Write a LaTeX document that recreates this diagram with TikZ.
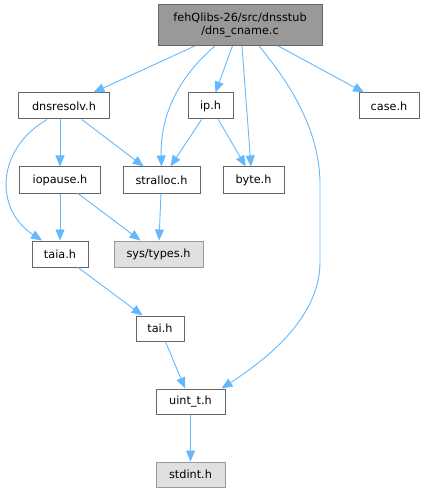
\documentclass[tikz,border=0pt]{standalone}
\usepackage{fontspec}
\setmainfont{DejaVu Sans}
\usetikzlibrary{arrows.meta,calc}
\definecolor{edgeblue}{HTML}{63B8FF}
\definecolor{boxline}{HTML}{666666}
\definecolor{topfill}{HTML}{999999}
\definecolor{missfill}{HTML}{E0E0E0}
\definecolor{missline}{HTML}{999999}
\begin{document}
\begin{tikzpicture}[x=1bp,y=-1bp,
  box/.style={draw=boxline, fill=white, line width=1bp, inner sep=0pt, font=\fontsize{11.3}{13.5}\selectfont, align=center},
  topbox/.style={box, fill=topfill},
  missbox/.style={box, draw=missline, fill=missfill},
  dep/.style={draw=edgeblue, line width=0.9bp, -{Triangle[length=11bp,width=9bp]}, color=edgeblue}
]
\useasboundingbox (0,0) rectangle (425,493);
\node[topbox, minimum width=164bp, minimum height=40.5bp] (top) at (240,25.25) {fehQlibs-26/src/dnsstub\\/dns\_cname.c};
\node[box, minimum width=90bp, minimum height=26bp] (dnsresolv) at (64,106) {dnsresolv.h};
\node[box, minimum width=45bp, minimum height=26bp] (ip) at (210.5,106) {ip.h};
\node[box, minimum width=60bp, minimum height=26bp] (case) at (389,106) {case.h};
\node[box, minimum width=80bp, minimum height=26bp] (iopause) at (60,180) {iopause.h};
\node[box, minimum width=77bp, minimum height=26bp] (stralloc) at (161.5,180) {stralloc.h};
\node[box, minimum width=61bp, minimum height=26bp] (byte) at (253.5,180) {byte.h};
\node[box, minimum width=56bp, minimum height=26bp] (taia) at (60,254) {taia.h};
\node[missbox, minimum width=89bp, minimum height=26bp] (systypes) at (158.5,254) {sys/types.h};
\node[box, minimum width=48bp, minimum height=25bp] (tai) at (160,328.5) {tai.h};
\node[box, minimum width=69bp, minimum height=25bp] (uint) at (190.5,401.5) {uint\_t.h};
\node[missbox, minimum width=69bp, minimum height=25bp] (stdint) at (190.5,474.5) {stdint.h};

\draw[dep] (top) -- (dnsresolv);
\draw[dep] (top) -- (ip);
\draw[dep] (top) -- (case);
\draw[dep] ($(top.south)+(-25,0)$) .. controls (175,80) and (160,120) .. (stralloc.north);
\draw[dep] ($(top.south)+(2,0)$) .. controls (246,100) .. ($(byte.north)+(-2.5,0)$);
\draw[dep] ($(top.south)+(19,0)$) .. controls (300,95) and (320,140) .. (320,185) -- (320,262) .. controls (320,320) and (262,362) .. ($(uint.north east)+(-4,0)$);
\draw[dep] ($(dnsresolv.south)+(-17,0)$) .. controls (-5,150) and (-5,210) .. ($(taia.north)+(-18,0)$);
\draw[dep] (dnsresolv.south -| iopause.north) -- (iopause);
\draw[dep] (dnsresolv) -- (stralloc);
\draw[dep] (ip) -- (stralloc);
\draw[dep] (ip) -- (byte);
\draw[dep] (iopause) -- (taia);
\draw[dep] (iopause) -- (systypes);
\draw[dep] (stralloc) -- (systypes);
\draw[dep] (taia) -- (tai);
\draw[dep] (tai) -- (uint);
\draw[dep] (uint) -- (stdint);
\end{tikzpicture}
\end{document}
